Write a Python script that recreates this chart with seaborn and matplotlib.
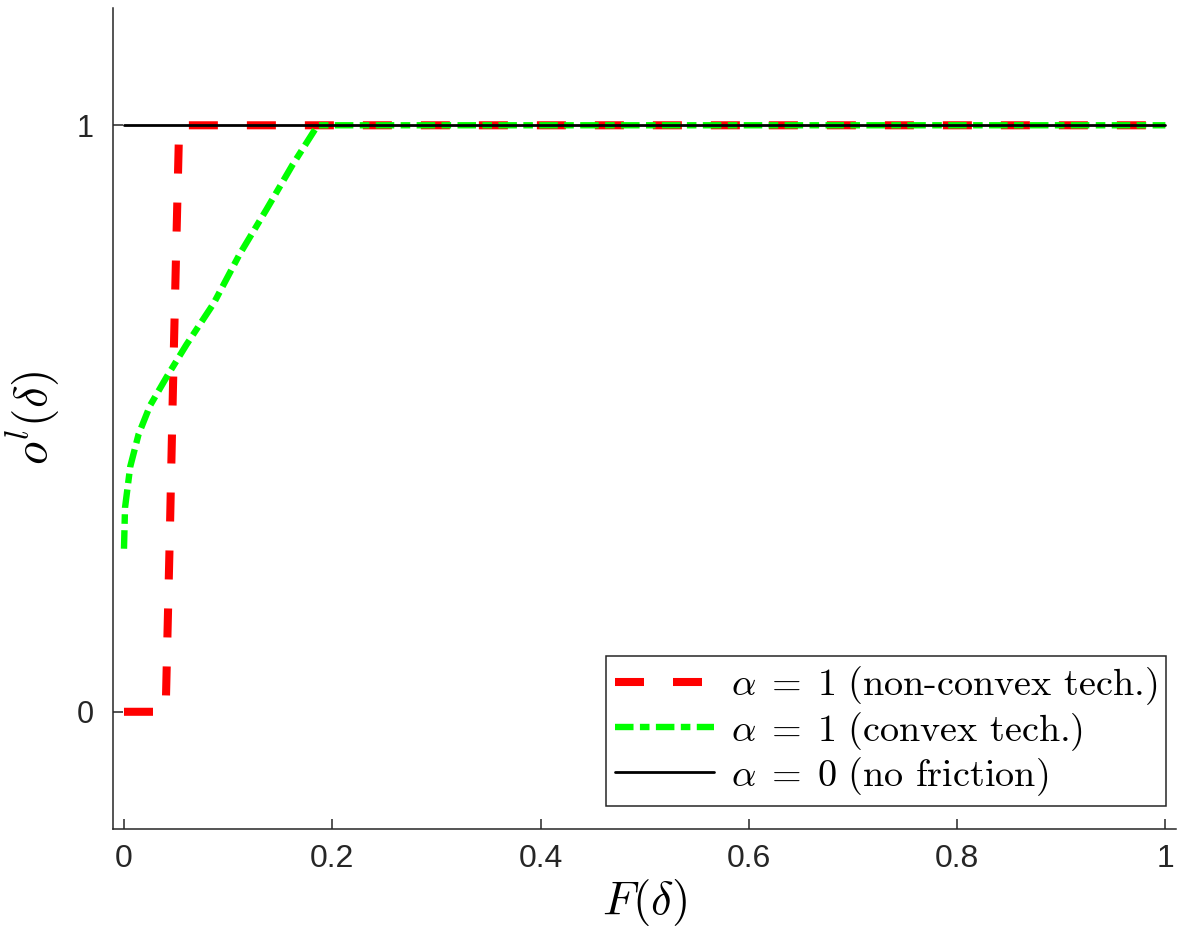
import numpy as np
import pandas as pd
import matplotlib
matplotlib.use("Agg")
import matplotlib.pyplot as plt
import seaborn as sns

# ---- data ----
red_x = [0.0, 0.040, 0.044, 0.047, 0.050, 0.053, 1.0]
red_y = [0.0, 0.0, 0.30, 0.55, 0.78, 1.0, 1.0]

green_x = [0.0, 0.001, 0.006, 0.014, 0.025, 0.041, 0.060, 0.086, 0.111, 0.137, 0.162, 0.186, 1.0]
green_y = [0.278, 0.348, 0.418, 0.473, 0.522, 0.571, 0.626, 0.696, 0.780, 0.857, 0.933, 1.0, 1.0]

black_x = [0.0, 1.0]
black_y = [1.0, 1.0]

labels = [r"$\alpha \;=\; 1\ \text{(non-convex tech.)}$",
          r"$\alpha \;=\; 1\ \text{(convex tech.)}$",
          r"$\alpha \;=\; 0\ \text{(no friction)}$"]
xticks = [0, 0.2, 0.4, 0.6, 0.8, 1]
xtick_labels = ["0", "0.2", "0.4", "0.6", "0.8", "1"]
yticks = [0, 1]
ytick_labels = ["0", "1"]

sns.set_theme(style="ticks")
plt.rcParams["font.family"] = ["Liberation Sans", "DejaVu Sans"]
plt.rcParams["mathtext.fontset"] = "cm"
plt.rcParams["text.color"] = "black"
plt.rcParams["axes.labelcolor"] = "black"

fig = plt.figure(figsize=(11.79, 9.40), dpi=100)
ax = fig.add_axes([0.0958, 0.118, 0.902, 0.8735])

sns.lineplot(x=red_x, y=red_y, ax=ax, color="#ff0000", lw=5.8, label=labels[0],
             sort=False, estimator=None)
ax.lines[-1].set_dashes((3.6, 3.6))
sns.lineplot(x=green_x, y=green_y, ax=ax, color="#00ff00", lw=4.6, label=labels[1],
             sort=False, estimator=None)
ax.lines[-1].set_dashes((2.9, 1.0, 1.5, 1.0))
sns.lineplot(x=black_x, y=black_y, ax=ax, color="black", lw=2.0, label=labels[2],
             sort=False, estimator=None)

ax.set_xlim(-0.0106, 1.0106)
ax.set_ylim(-0.2, 1.2)
ax.set_xticks(xticks)
ax.set_xticklabels(xtick_labels)
ax.set_yticks(yticks)
ax.set_yticklabels(ytick_labels)

for s in ["top", "right"]:
    ax.spines[s].set_visible(False)
for s in ["left", "bottom"]:
    ax.spines[s].set_color("#262626")
    ax.spines[s].set_linewidth(1.1)
ax.tick_params(direction="in", length=7, width=1.1, colors="#262626",
               labelcolor="#262626")
ax.tick_params(axis="x", labelsize=23, pad=11)
ax.tick_params(axis="y", labelsize=22, pad=14)

ax.set_xlabel(r"$F(\delta)$", fontsize=34, labelpad=2)
ax.set_ylabel(r"$o^l(\delta)$", fontsize=34, labelpad=10)

leg = ax.legend(loc="lower right", bbox_to_anchor=(0.99, 0.028), borderaxespad=0,
                fontsize=27.5, fancybox=False, framealpha=1, edgecolor="#262626",
                handlelength=2.6, handletextpad=0.45, borderpad=0.22, labelspacing=0.06)
leg.get_frame().set_linewidth(1.1)

fig.savefig("out.png", dpi=100)
